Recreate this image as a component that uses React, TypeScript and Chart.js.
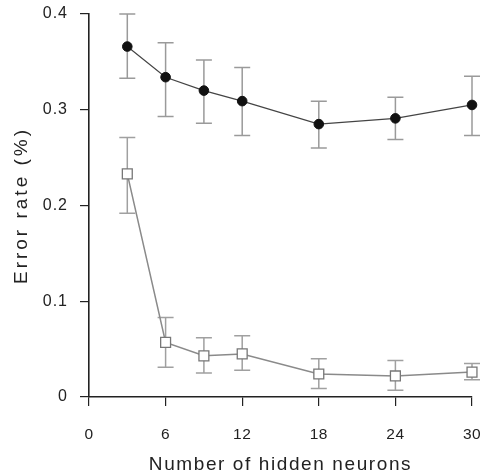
import React, { useEffect, useRef } from "react";
import { Chart, registerables } from "chart.js";

Chart.register(...registerables);

const neurons = [3, 6, 9, 12, 18, 24, 30];
const xTicks = [0, 6, 12, 18, 24, 30];
const yTicks = [0, 0.1, 0.2, 0.3, 0.4];

const testError = [0.366, 0.334, 0.32, 0.309, 0.285, 0.291, 0.305];
const testHigh = [0.4, 0.37, 0.352, 0.344, 0.309, 0.313, 0.335];
const testLow = [0.333, 0.293, 0.286, 0.273, 0.26, 0.269, 0.273];

const trainError = [0.233, 0.057, 0.043, 0.045, 0.024, 0.022, 0.026];
const trainHigh = [0.271, 0.083, 0.062, 0.064, 0.04, 0.038, 0.035];
const trainLow = [0.192, 0.031, 0.025, 0.028, 0.009, 0.007, 0.018];

const FONT = "Liberation Sans, Arial, sans-serif";

function spaced(s: any, titleSpacing: string, labelSpacing: string) {
  if (s._spacedWrap) return;
  s._spacedWrap = true;
  const origTitle = s.drawTitle;
  const origLabels = s.drawLabels;
  s.drawTitle = function (...args: any[]) {
    const c: any = this.ctx;
    const prev = c.letterSpacing;
    c.letterSpacing = titleSpacing;
    origTitle.apply(this, args);
    c.letterSpacing = prev || "0px";
  };
  s.drawLabels = function (...args: any[]) {
    const c: any = this.ctx;
    const prev = c.letterSpacing;
    c.letterSpacing = labelSpacing;
    origLabels.apply(this, args);
    c.letterSpacing = prev || "0px";
  };
}

const errorBars = {
  id: "errorBars",
  beforeDatasetsDraw(chart: any) {
    const { ctx, scales } = chart;
    const xs = scales.x;
    const ys = scales.y;
    const sets = [
      { hi: testHigh, lo: testLow, color: "#9a9a9a" },
      { hi: trainHigh, lo: trainLow, color: "#a0a0a0" },
    ];
    ctx.save();
    sets.forEach((s) => {
      ctx.strokeStyle = s.color;
      ctx.lineWidth = 1.5;
      neurons.forEach((n, i) => {
        const px = xs.getPixelForValue(n);
        const top = ys.getPixelForValue(s.hi[i]);
        const bot = ys.getPixelForValue(s.lo[i]);
        ctx.beginPath();
        ctx.moveTo(px, top);
        ctx.lineTo(px, bot);
        ctx.moveTo(px - 8, top);
        ctx.lineTo(px + 8, top);
        ctx.moveTo(px - 8, bot);
        ctx.lineTo(px + 8, bot);
        ctx.stroke();
      });
    });
    ctx.restore();
  },
};

export default function App() {
  const ref = useRef<HTMLCanvasElement | null>(null);
  useEffect(() => {
    document.body.style.margin = "0";
    const chart = new Chart(ref.current as HTMLCanvasElement, {
      type: "line",
      data: {
        datasets: [
          {
            label: "test",
            data: neurons.map((n, i) => ({ x: n, y: testError[i] })),
            borderColor: "#444",
            borderWidth: 1.2,
            pointStyle: "circle",
            pointRadius: 4.8,
            pointBackgroundColor: "#111",
            pointBorderColor: "#111",
            pointBorderWidth: 1,
            clip: false as any,
            tension: 0,
          },
          {
            label: "train",
            data: neurons.map((n, i) => ({ x: n, y: trainError[i] })),
            borderColor: "#8a8a8a",
            borderWidth: 1.5,
            pointStyle: "rect",
            pointRadius: 7,
            pointBackgroundColor: "#ffffff",
            pointBorderColor: "#777",
            pointBorderWidth: 1.3,
            clip: false as any,
            tension: 0,
          },
        ],
      },
      options: {
        animation: false,
        responsive: false,
        layout: { padding: { top: 14, right: 9, left: 0, bottom: 0 } },
        plugins: { legend: { display: false }, tooltip: { enabled: false } },
        scales: {
          x: {
            type: "linear",
            min: 0,
            max: 30,
            afterBuildTicks: (s: any) => {
              s.ticks = xTicks.map((v) => ({ value: v }));
            },
            afterFit: (s: any) => {
              s.height = 77;
              s.paddingLeft = 0;
              s.paddingRight = 0;
              spaced(s, "1.6px", "0.5px");
            },
            ticks: {
              color: "#222",
              font: { family: FONT, size: 15.5 },
              padding: 19,
              maxRotation: 0,
            },
            grid: {
              drawOnChartArea: false,
              drawTicks: true,
              tickLength: 9,
              color: "#222",
              lineWidth: 1.2,
            },
            border: { display: true, color: "#222", width: 1.6 },
            title: {
              display: true,
              text: "Number of hidden neurons",
              color: "#222",
              font: { family: FONT, size: 19, lineHeight: 1 },
              padding: { top: 0, bottom: 0 },
            },
          },
          y: {
            type: "linear",
            min: 0,
            max: 0.4,
            afterBuildTicks: (s: any) => {
              s.ticks = yTicks.map((v) => ({ value: v }));
            },
            afterFit: (s: any) => {
              s.width = 89;
              s.paddingTop = 0;
              s.paddingBottom = 0;
              spaced(s, "3px", "1px");
            },
            ticks: {
              color: "#222",
              font: { family: FONT, size: 16 },
              padding: 12,
              callback: (v: any) => String(Number(Number(v).toFixed(1))),
            },
            grid: {
              drawOnChartArea: false,
              drawTicks: true,
              tickLength: 9,
              color: "#222",
              lineWidth: 1.2,
            },
            border: { display: true, color: "#222", width: 1.6 },
            title: {
              display: true,
              text: "Error rate (%)",
              color: "#222",
              font: { family: FONT, size: 19 },
              padding: { top: 10, bottom: 0 },
            },
          },
        },
      },
      plugins: [errorBars],
    });
    return () => chart.destroy();
  }, []);
  return (
    <div style={{ width: 481, height: 474, background: "#fff" }}>
      <canvas ref={ref} width={481} height={474} />
    </div>
  );
}
